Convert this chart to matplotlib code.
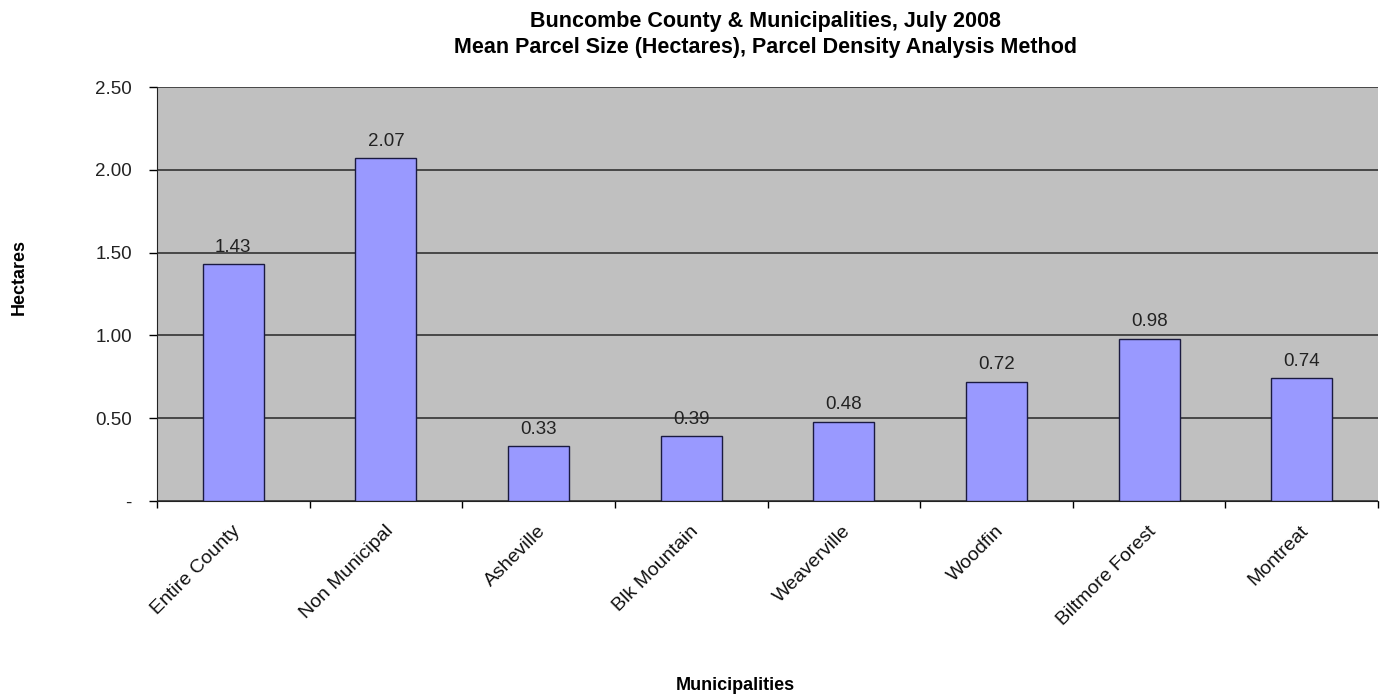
import numpy as np
import matplotlib.pyplot as plt

plt.rcParams['font.family'] = ['Liberation Sans', 'DejaVu Sans']

categories = ['Entire County', 'Non Municipal', 'Asheville', 'Blk Mountain',
              'Weaverville', 'Woodfin', 'Biltmore Forest', 'Montreat']
mean_size = [1.43, 2.07, 0.33, 0.39, 0.48, 0.72, 0.98, 0.74]
y_ticks = [0, 0.5, 1.0, 1.5, 2.0, 2.5]
y_ticklabels = ['-', '0.50', '1.00', '1.50', '2.00', '2.50']

fig = plt.figure(figsize=(13.83, 6.96), dpi=100)
ax = fig.add_axes([157 / 1383, 1 - 501 / 696, 1221 / 1383, 414 / 696])
ax.set_facecolor('#C0C0C0')

x = np.arange(len(categories))
ax.set_axisbelow(True)
ax.yaxis.grid(True, color='#333333', linewidth=1.2)
bars = ax.bar(x, mean_size, width=0.4, color='#9999FF', edgecolor='#1a1a40',
              linewidth=1.0, zorder=3)

for xi, v in zip(x, mean_size):
    ax.text(xi, v + 0.05, f'{v:.2f}', ha='center', va='bottom', fontsize=13.5,
            color='#222222', zorder=4)

ax.set_xlim(-0.5, len(categories) - 0.5)
ax.set_ylim(0, 2.5)
ax.set_yticks(y_ticks)
ax.set_yticklabels(y_ticklabels, fontsize=13.5, color='#222222')
ax.tick_params(axis='y', length=6, width=1, direction='out', pad=12)

# ticks sit between categories; labels are placed separately
ax.set_xticks(np.arange(len(categories) + 1) - 0.5)
ax.set_xticklabels([])
ax.tick_params(axis='x', length=5, width=1, direction='out')
for xi, name in zip(x, categories):
    ax.text(xi - 0.01, -0.13, name, rotation=45, ha='right', va='top',
            rotation_mode='anchor', fontsize=14, color='#111111',
            transform=ax.transData)

for side in ['top', 'right']:
    ax.spines[side].set_visible(False)
ax.spines['left'].set_color('#222222')
ax.spines['bottom'].set_color('#222222')

fig.text(765 / 1383, 1 - 22 / 696, 'Buncombe County & Municipalities, July 2008',
         ha='center', va='center', fontsize=15.5, fontweight='bold')
fig.text(765 / 1383, 1 - 47 / 696, 'Mean Parcel Size (Hectares), Parcel Density Analysis Method',
         ha='center', va='center', fontsize=15.5, fontweight='bold')
fig.text(19 / 1383, 1 - 277 / 696, 'Hectares', rotation=90, ha='center',
         va='center', fontsize=13, fontweight='bold')
fig.text(735 / 1383, 1 - 686 / 696, 'Municipalities', ha='center', va='center',
         fontsize=13, fontweight='bold')

fig.savefig('out.png', dpi=100)
